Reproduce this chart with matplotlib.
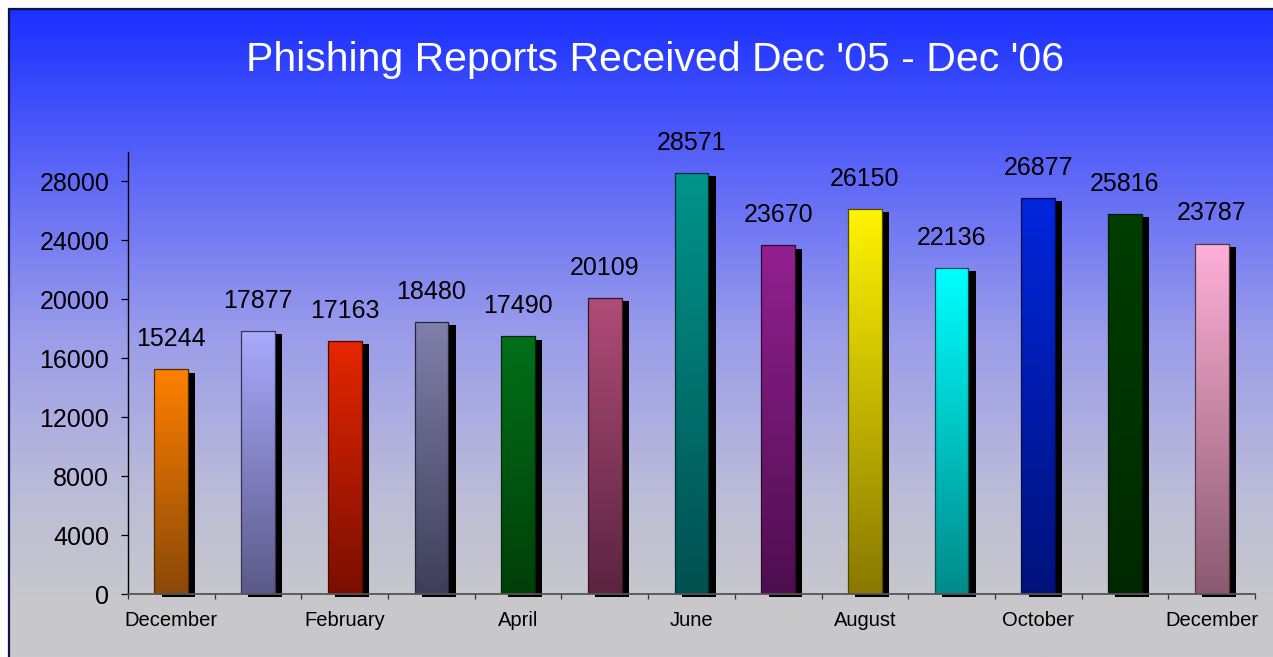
import numpy as np
import matplotlib
matplotlib.use("Agg")
import matplotlib.pyplot as plt
import matplotlib.patheffects as pe
from matplotlib.colors import LinearSegmentedColormap, to_rgb
from matplotlib.patches import Rectangle

# ###########################################################
# Data
# ###########################################################

months = ["December", "January", "February", "March", "April", "May", "June",
          "July", "August", "September", "October", "November", "December"]
reports = [15244, 17877, 17163, 18480, 17490, 20109, 28571,
           23670, 26150, 22136, 26877, 25816, 23787]
top_colors = ["#FF8000", "#AAAAFF", "#E62600", "#8080AC", "#00701A", "#B04C78", "#00948C",
              "#922090", "#FFF500", "#00FFFF", "#0026DD", "#003E00", "#FFB0D8"]
bottom_colors = ["#8A4808", "#5A5A88", "#7A0E00", "#3E3E5A", "#003F08", "#5A2440", "#005050",
                 "#4E0E4E", "#887800", "#008A8A", "#00127A", "#002800", "#8A5A70"]
yticks = np.arange(0, 28001, 4000)
title = "Phishing Reports Received Dec '05 - Dec '06"

# ###########################################################
# Figure and background
# ###########################################################

plt.rcParams["font.family"] = ["Liberation Sans", "DejaVu Sans"]
W, H = 1273, 657
fig = plt.figure(figsize=(W / 100, H / 100), dpi=100, facecolor="white")

# background gradient (blue on top, gray at the bottom)
bg = fig.add_axes([9 / W, 0, 1 - 9 / W, 1 - 9 / H], zorder=0)
bg_cmap = LinearSegmentedColormap.from_list(
    "bg", [(0.0, "#1A30FF"), (0.25, "#5C66F8"), (0.5, "#9A9CEA"),
           (0.75, "#BCBCD8"), (0.92, "#C8C8CC"), (1.0, "#C9C9CB")])
bg.imshow(np.linspace(0, 1, 256)[:, None], cmap=bg_cmap, aspect="auto",
          extent=(0, 1, 0, 1))
bg.set_axis_off()

# outer frame
fig.patches.append(Rectangle((9 / W, -0.05), 1.0, 1 - 9 / H + 0.05,
                             transform=fig.transFigure, fill=False,
                             edgecolor="#10104A", linewidth=1.6, zorder=5))

# ###########################################################
# Bar chart
# ###########################################################

ax = fig.add_axes([128 / W, 1 - 594 / H, (1255 - 128) / W, 442 / H], zorder=1)
ax.patch.set_alpha(0)

x = np.arange(len(months))
bars = ax.bar(x, reports, width=0.39, color=top_colors, edgecolor="none",
              zorder=2, clip_on=False)

for bar, c_top, c_bot, val in zip(bars, top_colors, bottom_colors, reports):
    # drop shadow
    bar.set_path_effects([pe.SimplePatchShadow(offset=(5.2, -2.4), shadow_rgbFace="black",
                                               alpha=1.0), pe.Normal()])
    # vertical gradient clipped to the bar
    cmap = LinearSegmentedColormap.from_list("g", [to_rgb(c_bot), to_rgb(c_top)])
    bx, bw, bh = bar.get_x(), bar.get_width(), bar.get_height()
    im = ax.imshow(np.linspace(0, 1, 256)[:, None], cmap=cmap, origin="lower",
                   extent=(bx, bx + bw, 0, bh), aspect="auto", zorder=3)
    im.set_clip_path(bar)
    # thin outline
    ax.add_patch(Rectangle((bx, 0), bw, bh, fill=False,
                           edgecolor=tuple(0.6 * np.array(to_rgb(c_bot))),
                           linewidth=0.9, zorder=4))
    # value label
    ax.annotate(f"{val}", (bar.get_x() + bw / 2, bh), xytext=(0, 13),
                textcoords="offset points", ha="center", va="bottom",
                fontsize=18, color="black", zorder=5)

ax.set_xlim(-0.5, len(months) - 0.5)
ax.set_ylim(0, 30000)
ax.set_aspect("auto")

# axes styling
for side in ("top", "right"):
    ax.spines[side].set_visible(False)
ax.spines["left"].set_color("black")
ax.spines["left"].set_linewidth(1.0)
ax.spines["bottom"].set_color("#555555")
ax.spines["bottom"].set_linewidth(1.3)
ax.spines["bottom"].set_zorder(6)

ax.set_yticks(yticks)
ax.set_yticklabels([f"{v}" for v in yticks])
ax.tick_params(axis="y", direction="out", length=5, width=0.9, pad=8.5,
               labelsize=18, colors="black")

# labels on every other month, tick marks at the category boundaries
ax.set_xticks(x)
ax.set_xticklabels([m if i % 2 == 0 else "" for i, m in enumerate(months)])
ax.tick_params(axis="x", which="major", length=0, pad=12, labelsize=14.5)
ax.set_xticks(np.arange(-0.5, len(months)), minor=True)
ax.tick_params(axis="x", which="minor", direction="out", length=3.5, width=0.9,
               color="#333333")

# title
fig.text(655 / W, 1 - 60 / H, title, ha="center", va="center",
         fontsize=29.5, color="white")

fig.savefig("out.png", dpi=100)
